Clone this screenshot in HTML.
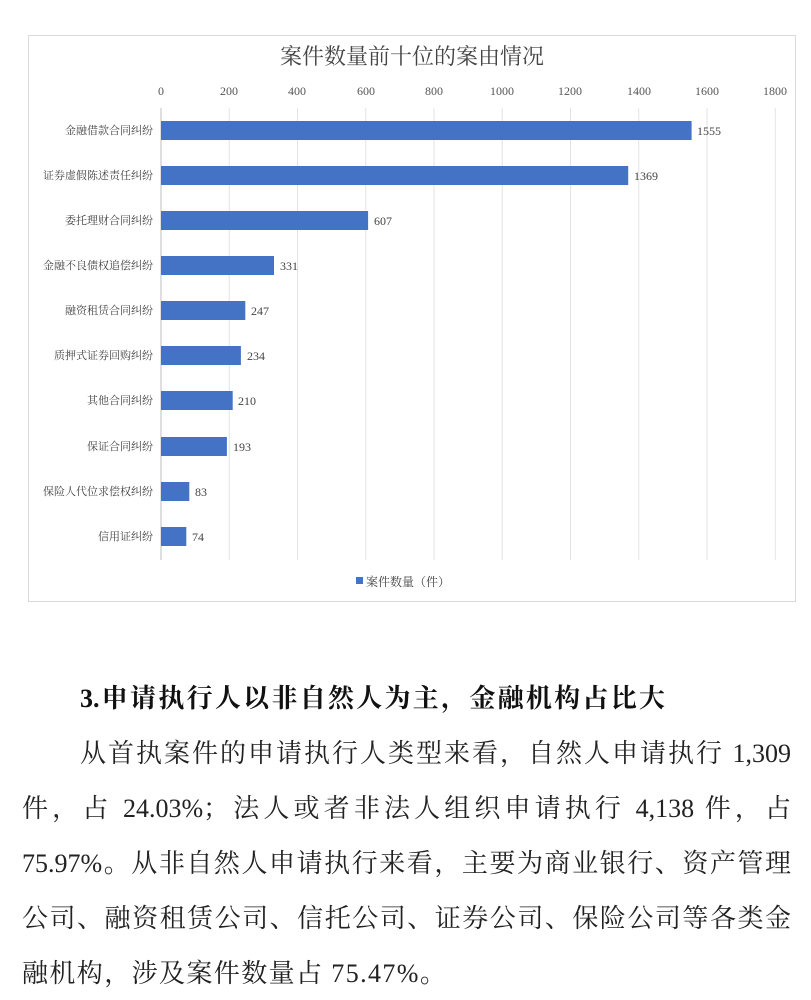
<!DOCTYPE html>
<html><head><meta charset="utf-8"><style>
body{margin:0;width:811px;height:1000px;background:#fff;overflow:hidden;position:relative;font-family:"Liberation Serif","Noto Serif CJK SC",serif;}
.t{position:absolute;white-space:nowrap;font-size:26px;color:#222;font-family:"Liberation Serif","Noto Serif CJK SC",serif;}
.j{text-align:justify;text-align-last:justify;white-space:normal;}
</style></head><body>
<svg width="811" height="640" style="position:absolute;left:0;top:0" font-family="Liberation Serif, Noto Serif CJK SC, serif">
<rect x="28.5" y="35.5" width="767" height="566" fill="#fff" stroke="#d9d9d9"/>
<text x="412" y="64" font-size="22" text-anchor="middle" fill="#444">案件数量前十位的案由情况</text>
<g stroke="#e3e3e3" stroke-width="1">
<line x1="229.25" y1="108" x2="229.25" y2="560"/><line x1="297.5" y1="108" x2="297.5" y2="560"/><line x1="365.75" y1="108" x2="365.75" y2="560"/><line x1="434" y1="108" x2="434" y2="560"/><line x1="502.25" y1="108" x2="502.25" y2="560"/><line x1="570.5" y1="108" x2="570.5" y2="560"/><line x1="638.75" y1="108" x2="638.75" y2="560"/><line x1="707" y1="108" x2="707" y2="560"/><line x1="775.25" y1="108" x2="775.25" y2="560"/>
</g>
<line x1="161" y1="108" x2="161" y2="560" stroke="#bfbfbf"/>
<g font-size="12" fill="#555" text-anchor="middle">
<text x="161" y="95">0</text><text x="229" y="95">200</text><text x="297" y="95">400</text><text x="366" y="95">600</text><text x="434" y="95">800</text><text x="502" y="95">1000</text><text x="570" y="95">1200</text><text x="639" y="95">1400</text><text x="707" y="95">1600</text><text x="775" y="95">1800</text>
</g>
<g fill="#4472c4">
<rect x="161" y="121" width="530.6" height="19"/>
<rect x="161" y="166" width="467.2" height="19"/>
<rect x="161" y="211" width="207.1" height="19"/>
<rect x="161" y="256" width="113" height="19"/>
<rect x="161" y="301" width="84.3" height="19"/>
<rect x="161" y="346" width="79.9" height="19"/>
<rect x="161" y="391" width="71.7" height="19"/>
<rect x="161" y="437" width="65.9" height="19"/>
<rect x="161" y="482" width="28.3" height="19"/>
<rect x="161" y="527" width="25.3" height="19"/>
</g>
<g font-size="12" fill="#444">
<text x="697" y="135">1555</text><text x="634" y="180">1369</text><text x="374" y="225">607</text><text x="280" y="270">331</text><text x="251" y="315">247</text><text x="247" y="360">234</text><text x="238" y="405">210</text><text x="233" y="451">193</text><text x="195" y="496">83</text><text x="192" y="541">74</text>
</g>
<g font-size="11" fill="#444" text-anchor="end">
<text x="153" y="134">金融借款合同纠纷</text><text x="153" y="179">证券虚假陈述责任纠纷</text><text x="153" y="224">委托理财合同纠纷</text><text x="153" y="269">金融不良债权追偿纠纷</text><text x="153" y="314">融资租赁合同纠纷</text><text x="153" y="359">质押式证券回购纠纷</text><text x="153" y="404">其他合同纠纷</text><text x="153" y="450">保证合同纠纷</text><text x="153" y="495">保险人代位求偿权纠纷</text><text x="153" y="540">信用证纠纷</text>
</g>
<rect x="356" y="577" width="7" height="7" fill="#4472c4"/>
<text x="366" y="586" font-size="12" fill="#444">案件数量（件）</text>
</svg>
<div class="t j" style="left:80px;top:678px;width:585px;font-weight:bold;font-size:26px;font-family:'Liberation Serif','Noto Serif CJK SC',serif;color:#111">3.申请执行人以非自然人为主，金融机构占比大</div>
<div class="t j" style="left:80px;top:733px;width:711px">从首执案件的申请执行人类型来看，自然人申请执行 1,309</div>
<div class="t j" style="left:22px;top:788px;width:769px">件，占 24.03%；法人或者非法人组织申请执行 4,138 件，占</div>
<div class="t j" style="left:22px;top:843px;width:769px">75.97%。从非自然人申请执行来看，主要为商业银行、资产管理</div>
<div class="t j" style="left:22px;top:898px;width:769px">公司、融资租赁公司、信托公司、证券公司、保险公司等各类金</div>
<div class="t" style="left:22px;top:953px;letter-spacing:1.4px">融机构，涉及案件数量占 75.47%。</div>
</body></html>
